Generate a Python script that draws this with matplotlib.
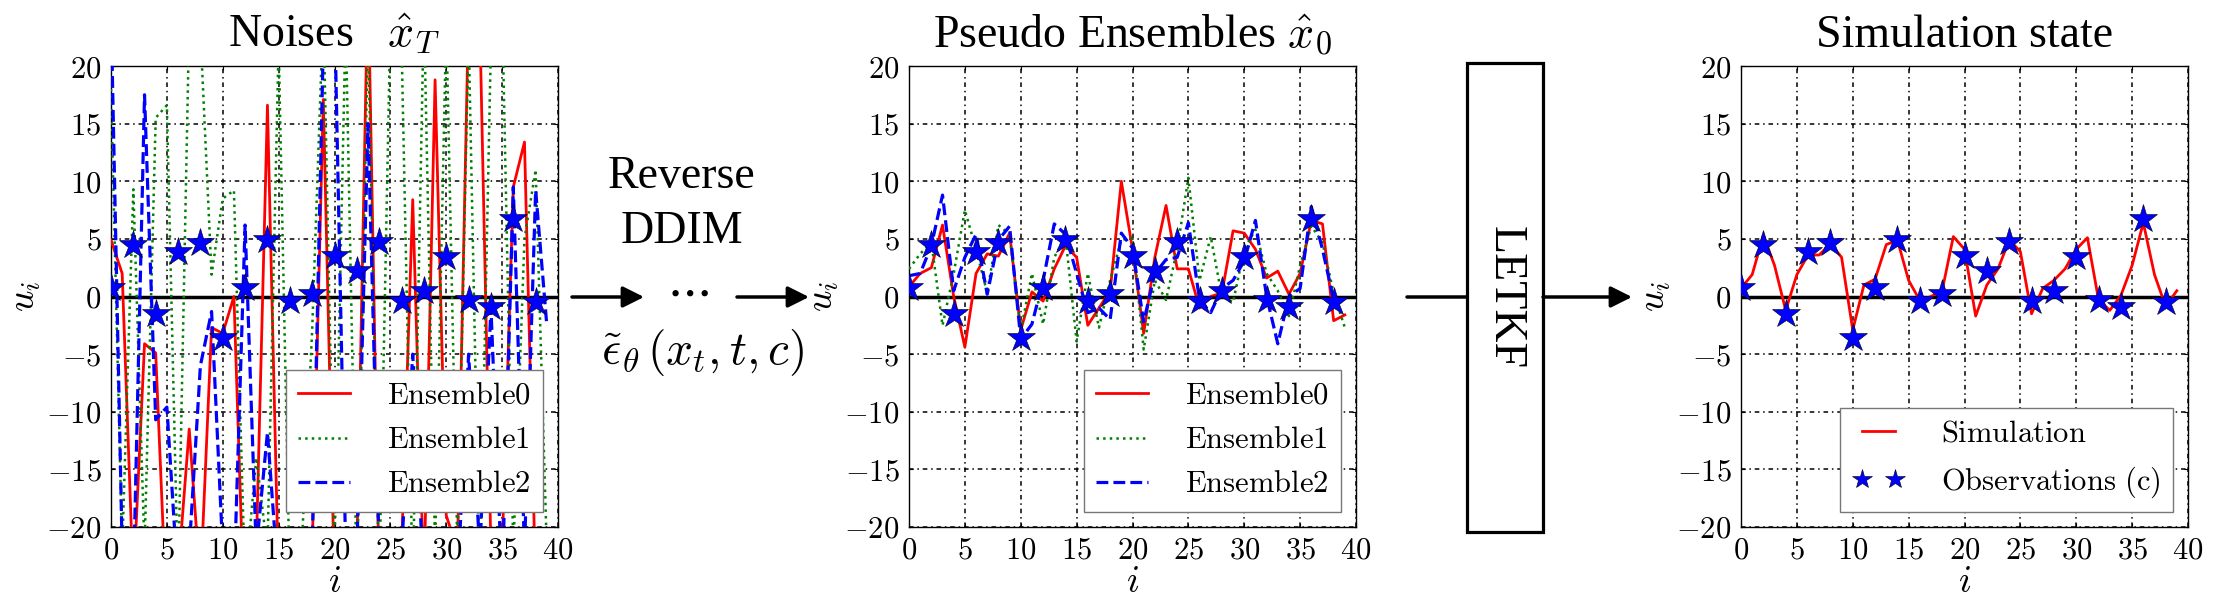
import matplotlib
matplotlib.use("Agg")
import matplotlib.pyplot as plt
from matplotlib.patches import FancyArrowPatch, Rectangle
from matplotlib.ticker import FuncFormatter

plt.rcParams['font.family'] = ['Liberation Serif', 'DejaVu Serif']
plt.rcParams['mathtext.fontset'] = 'cm'

idx = list(range(40))
obs_idx = list(range(0, 40, 2))
obs_val = [0.75, 4.5, -1.5, 3.9, 4.6, -3.6, 0.75, 4.9, -0.4, 0.2,
           3.5, 2.2, 4.7, -0.35, 0.5, 3.4, -0.3, -0.95, 6.7, -0.5]

# noises x_T
noise0 = [4.9, 2.0, -25, -4.1, -4.9, -28, -24, -11.5, -25, -2.7,
          -3.2, 0.0, -30, -22, 16.6, -25, -28, -24, -22, 17.1,
          -25, -26, -22, 28, -25, -27, -22, 8.4, -25, 18.8,
          -19, -22, 25, 24, -22, -22, 9.5, 13.4, -25, -24]
noise1 = [18, -22, 9.3, -22, 15.5, 16.6, -25, 24, 23, 1.9,
          8.5, 9.2, -25, -14, -22, 22, -25, -23, -3, 25,
          -22, 24, -25, 23, -25, 24, 22, -25, 25, -22,
          24, -22, 23, -25, 22, 25, -22, 5, 11, -22]
noise2 = [25, -22, -25, 17.5, -10.7, -9.6, -25, -22, -6, -1.3,
          -22, -25, 6.2, -22, -11.8, -25, -22, -25, -22, 22,
          25, -22, -22, 15, -22, -25, -22, -5, -25, -22,
          -22, -25, -5, -22, -1, -25, 9.5, -22, 9.2, -2.5]

# pseudo ensembles x_0
ens0 = [0.85, 2.0, 2.5, 6.2, 0.0, -4.4, 2.0, 3.7, 3.5, 5.5,
        -2.9, 0.4, -0.4, 2.4, 4.4, 3.4, -2.5, -1.0, 0.5, 10.0,
        4.1, -3.2, 3.4, 7.9, 2.4, 2.4, -1.0, 0.0, 0.3, 5.7,
        5.5, 4.1, 1.6, 2.2, 0.2, 2.0, 6.6, 6.3, -2.1, -1.6]
ens1 = [2.4, 3.7, 4.7, -2.5, 2.0, 7.5, 4.1, 0.3, 6.2, 5.4,
        -3.0, 2.0, -2.4, 3.4, 5.2, -3.9, 2.0, -2.7, 1.4, 4.9,
        5.1, -4.6, 1.4, -0.3, 4.1, 10.3, 1.4, 5.2, 0.0, -0.5,
        4.1, 5.8, 2.0, 0.5, -1.7, 2.7, 6.1, 4.7, 0.3, -2.7]
ens2 = [1.8, 2.0, 4.4, 8.8, 0.5, 3.4, 5.4, 0.2, 4.9, 6.1,
        -3.7, -2.4, 1.4, 6.3, 5.4, 2.0, -1.4, -1.0, -2.0, 5.5,
        4.2, -2.2, 2.0, 3.2, 3.4, 6.4, -0.3, -1.4, 0.7, 1.4,
        3.1, 6.6, 0.0, -4.1, 0.0, 0.7, 7.8, 4.1, -0.3, -0.2]

# simulation state after LETKF
sim = [0.7, 1.9, 5.3, 2.7, -1.2, 1.9, 3.6, 3.6, 4.6, 3.4,
       -2.9, 1.0, 1.5, 4.5, 4.9, 1.4, -0.35, 0.0, 0.5, 5.2,
       4.1, -1.7, 1.0, 2.4, 4.9, 3.9, -1.5, 0.7, 1.4, 2.4,
       4.1, 5.1, -0.3, -1.2, 0.1, 2.7, 6.4, 1.9, -0.85, 0.5]

W, H = 2224, 612


def fx(px):
    return px / W


def fy(py):
    return 1 - py / H


fig = plt.figure(figsize=(W / 100, H / 100), dpi=100)

ax_w, ax_h = 447 / W, 461 / H
ax_y = fy(527)
axes = [fig.add_axes([fx(111), ax_y, ax_w, ax_h]),
        fig.add_axes([fx(909), ax_y, ax_w, ax_h]),
        fig.add_axes([fx(1741), ax_y, ax_w, ax_h])]

mfmt = FuncFormatter(lambda v, p: r'$%d$' % v)


def setup(ax, title):
    ax.set_xlim(0, 40)
    ax.set_ylim(-20, 20)
    ax.set_xticks(range(0, 41, 5))
    ax.set_yticks(range(-20, 21, 5))
    ax.xaxis.set_major_formatter(mfmt)
    ax.yaxis.set_major_formatter(mfmt)
    ax.tick_params(labelsize=22, direction='in', length=3, top=True, right=True, pad=7)
    ax.grid(True, color='k', linestyle=(0, (3, 2.5, 1, 2.5)), linewidth=1.1)
    ax.axhline(0, color='k', lw=2.5, zorder=1.5)
    ax.set_xlabel(r'$i$', fontsize=27, labelpad=0)
    ax.set_ylabel(r'$u_i$', fontsize=27, labelpad=2)
    ax.set_title(title, fontsize=33, pad=14)
    for s in ax.spines.values():
        s.set_linewidth(1)


def stars(ax, label=None):
    ax.plot(obs_idx, obs_val, '*', color='b', markersize=21, markeredgecolor='k',
            markeredgewidth=0.4, label=label, zorder=4)


leg_kw = dict(loc='lower right', fontsize=22, fancybox=False, borderaxespad=0.5,
              labelspacing=0.5, handlelength=1.7, handletextpad=1.2, framealpha=1)

for ax, d0, d1, d2, title in [
        (axes[0], noise0, noise1, noise2, r'Noises   $\hat{x}_T$'),
        (axes[1], ens0, ens1, ens2, r'Pseudo Ensembles $\hat{x}_0$')]:
    setup(ax, title)
    ax.plot(idx, d0, '-', color='r', lw=2, label=r'$\mathrm{Ensemble0}$', zorder=3)
    ax.plot(idx, d1, ':', color='g', lw=1.8, label=r'$\mathrm{Ensemble1}$', zorder=3)
    ax.plot(idx, d2, '--', color='b', lw=2.3, label=r'$\mathrm{Ensemble2}$', zorder=3)
    stars(ax)
    leg = ax.legend(**leg_kw)
    leg.get_frame().set_edgecolor('#777777')
    leg.get_frame().set_linewidth(1)

ax = axes[2]
setup(ax, 'Simulation state')
ax.plot(idx, sim, '-', color='r', lw=2, label=r'$\mathrm{Simulation}$', zorder=3)
stars(ax, label=r'$\mathrm{Observations\ (c)}$')
leg = ax.legend(numpoints=2, markerscale=0.7, **leg_kw)
leg.get_frame().set_edgecolor('#777777')
leg.get_frame().set_linewidth(1)

# reverse DDIM annotation
fig.text(fx(682), fy(177), 'Reverse', fontsize=33, ha='center', va='center')
fig.text(fx(682), fy(232), 'DDIM', fontsize=33, ha='center', va='center')
fig.text(fx(687), fy(292), r'$\cdots$', fontsize=36, ha='center', va='center')
fig.text(fx(702), fy(353), r'$\tilde{\epsilon}_\theta\,(x_t,t,c)$', fontsize=34,
         ha='center', va='center')

arrow_kw = dict(transform=fig.transFigure, arrowstyle='-|>', mutation_scale=32,
                lw=2.5, color='k', shrinkA=0, shrinkB=0)
zy = fy(297)
fig.add_artist(FancyArrowPatch((fx(572), zy), (fx(644), zy), **arrow_kw))
fig.add_artist(FancyArrowPatch((fx(737), zy), (fx(809), zy), **arrow_kw))

# LETKF box
fig.add_artist(Rectangle((fx(1467), fy(532)), fx(1543) - fx(1467), fy(63) - fy(532),
                         transform=fig.transFigure, fill=False, lw=2.3, color='k'))
fig.text(fx(1505), fy(297), 'LETKF', fontsize=33, rotation=270, ha='center', va='center')
fig.add_artist(FancyArrowPatch((fx(1407), zy), (fx(1467), zy), transform=fig.transFigure,
                               arrowstyle='-', lw=2.5, color='k', shrinkA=0, shrinkB=0))
fig.add_artist(FancyArrowPatch((fx(1543), zy), (fx(1632), zy), **arrow_kw))

fig.savefig('out.png', dpi=100)
